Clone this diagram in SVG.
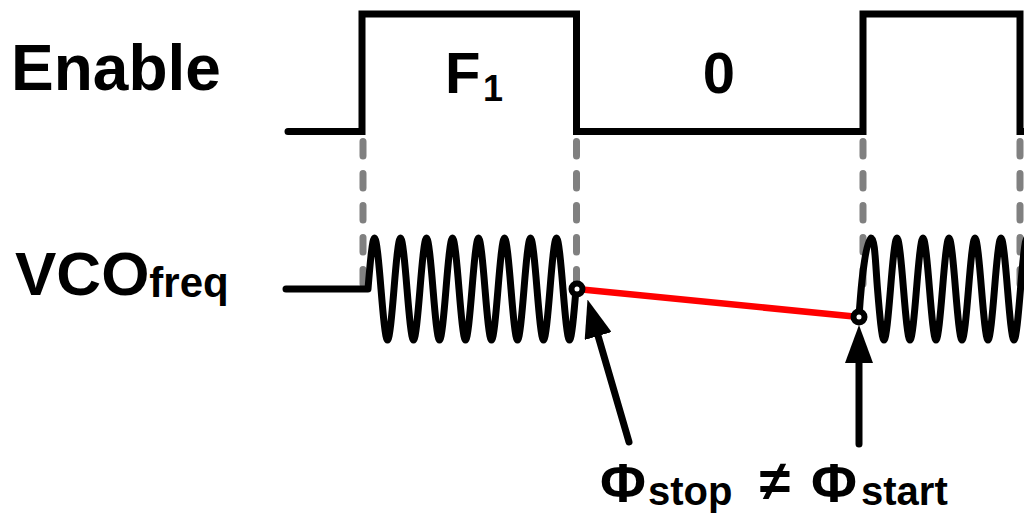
<svg xmlns="http://www.w3.org/2000/svg" width="1024" height="523" viewBox="0 0 1024 523">
<style>
text{font-family:"Liberation Sans",Arial,sans-serif;font-weight:bold;fill:#000}
.sig{fill:none;stroke:#000;stroke-width:7;stroke-linecap:round;stroke-linejoin:miter}
.wave{fill:none;stroke:#000;stroke-width:7;stroke-linecap:round;stroke-linejoin:round}
.dash{stroke:#808080;stroke-width:7;stroke-linecap:round;stroke-dasharray:14.5 17.5}
.ptr{stroke:#000;stroke-width:7;stroke-linecap:round;marker-end:url(#ah)}
.pt{fill:#fff;stroke:#000;stroke-width:6}
</style>
<defs>
<marker id="ah" markerUnits="userSpaceOnUse" viewBox="0 0 38 28" markerWidth="38" markerHeight="28" refX="4" refY="14" orient="auto">
<path d="M0,0 L38,14 L0,28 z" fill="#000"/>
</marker>
</defs>
<g id="labels">
<text x="11" y="90" font-size="64">Enable</text>
<text x="15" y="295" font-size="62">VCO<tspan font-size="42" dy="2">freq</tspan></text>
</g>
<g id="guides">
<line class="dash" x1="363" y1="141.5" x2="363" y2="290"/>
<line class="dash" x1="576.5" y1="141.5" x2="576.5" y2="290"/>
<line class="dash" x1="863" y1="141.5" x2="863" y2="290"/>
<line class="dash" x1="1020" y1="141.5" x2="1020" y2="290"/>
</g>
<g id="enable">
<path class="sig" d="M288,131.5 H362 V14 H576.5 V131.5 H863 V14 H1020 V131.5 H1030"/>
<text x="445" y="93" font-size="58">F<tspan x="483" y="101" font-size="36">1</tspan></text>
<text x="719" y="93" font-size="58" text-anchor="middle">0</text>
</g>
<g id="vco1">
<path class="wave" d="M286,289 H368 C370.12,262.85 372.43,238 374.5,238 S378.88,262.85 381,289 S385.43,340 387.5,340 S391.88,315.15 394,289 S398.43,238 400.5,238 S404.88,262.85 407,289 S411.43,340 413.5,340 S417.88,315.15 420,289 S424.43,238 426.5,238 S430.88,262.85 433,289 S437.43,340 439.5,340 S443.88,315.15 446,289 S450.43,238 452.5,238 S456.88,262.85 459,289 S463.43,340 465.5,340 S469.88,315.15 472,289 S476.43,238 478.5,238 S482.88,262.85 485,289 S489.43,340 491.5,340 S495.88,315.15 498,289 S502.43,238 504.5,238 S508.88,262.85 511,289 S515.43,340 517.5,340 S521.88,315.15 524,289 S528.43,238 530.5,238 S534.88,262.85 537,289 S541.43,340 543.5,340 S547.88,315.15 550,289 S554.43,238 556.5,238 S560.88,262.85 563,289 S567.43,340 569.5,340 S573.88,315.15 576,289"/>
</g>
<g id="vco2">
<path class="wave" d="M859,317 C862,270 867,238 871,238 S875.38,262.85 877.5,289 S881.93,340 884,340 S888.38,315.15 890.5,289 S894.93,238 897,238 S901.38,262.85 903.5,289 S907.93,340 910,340 S914.38,315.15 916.5,289 S920.93,238 923,238 S927.38,262.85 929.5,289 S933.93,340 936,340 S940.38,315.15 942.5,289 S946.93,238 949,238 S953.38,262.85 955.5,289 S959.93,340 962,340 S966.38,315.15 968.5,289 S972.93,238 975,238 S979.38,262.85 981.5,289 S985.93,340 988,340 S992.38,315.15 994.5,289 S998.93,238 1001,238 S1005.38,262.85 1007.5,289 S1011.93,340 1014,340 S1018.38,315.15 1020.5,289 S1024.93,238 1027,238 S1031.38,262.85 1033.5,289"/>
</g>
<g id="connectors">
<line x1="577" y1="289" x2="859" y2="317" stroke="#ff0000" stroke-width="6.5"/>
<line class="ptr" x1="629" y1="442" x2="597" y2="332.2"/>
<line class="ptr" x1="859" y1="444" x2="859" y2="359"/>
</g>
<g id="stop-point"><circle class="pt" cx="577" cy="289" r="5.5"/></g>
<g id="start-point"><circle class="pt" cx="859" cy="317" r="5.5"/></g>
<g id="phase-label">
<text y="502" font-size="56"><tspan x="600">Φ</tspan><tspan x="648" y="505" font-size="40">stop</tspan><tspan x="744" y="500" font-size="56"> ≠ </tspan><tspan x="811" y="502" font-size="56">Φ</tspan><tspan x="861" y="505" font-size="40">start</tspan></text>
</g>
</svg>
